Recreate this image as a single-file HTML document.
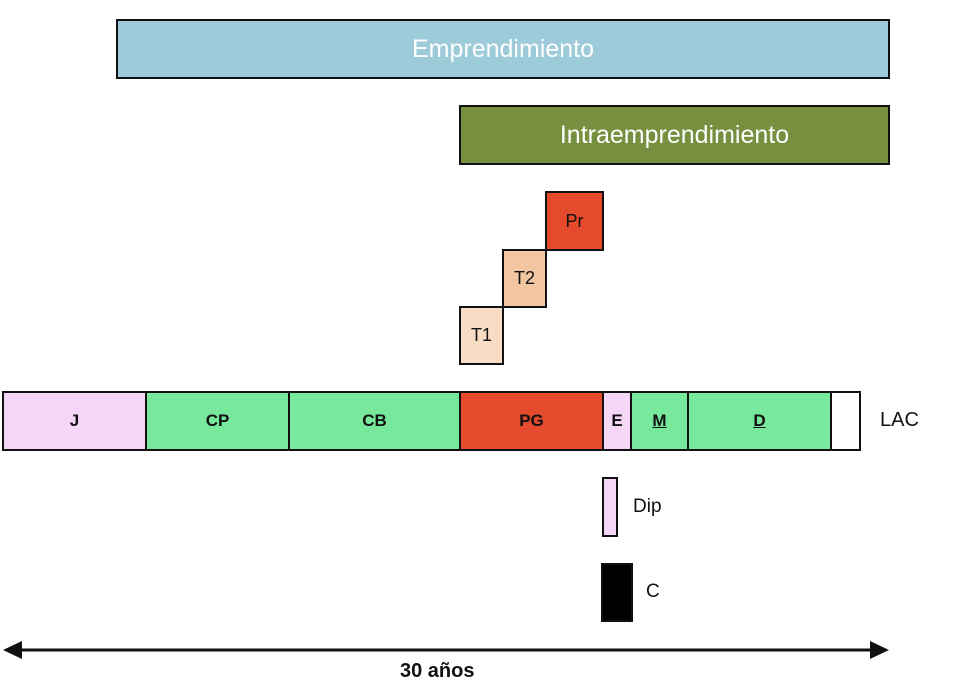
<!DOCTYPE html>
<html><head><meta charset="utf-8"><style>
body{margin:0;width:954px;height:698px;background:#fff;overflow:hidden;font-family:"Liberation Sans",sans-serif}
.b{position:absolute;box-sizing:border-box;border:2px solid #111;display:flex;align-items:center;justify-content:center;font-size:17px;color:#111}
.t{position:absolute;font-size:20px;color:#111}
</style></head><body>
<div class="b" style="left:116px;top:19px;width:774px;height:60px;background:#9ecbd9;color:#fff;font-size:25px">Emprendimiento</div>
<div class="b" style="left:459px;top:105px;width:431px;height:60px;background:#77903f;color:#fff;font-size:25px">Intraemprendimiento</div>
<div class="b" style="left:545px;top:191px;width:59px;height:60px;background:#e54a2c;font-size:18px">Pr</div>
<div class="b" style="left:502px;top:249px;width:45px;height:59px;background:#f2c6a0;font-size:18px">T2</div>
<div class="b" style="left:459px;top:306px;width:45px;height:59px;background:#f8dcc4;font-size:18px">T1</div>
<div style="position:absolute;left:0;top:0">
<div class="b" style="left:2px;top:391px;width:145px;height:60px;background:#f6d6f6;font-weight:bold">J</div>
<div class="b" style="left:145px;top:391px;width:145px;height:60px;background:#78e89c;font-weight:bold">CP</div>
<div class="b" style="left:288px;top:391px;width:173px;height:60px;background:#78e89c;font-weight:bold">CB</div>
<div class="b" style="left:459px;top:391px;width:145px;height:60px;background:#e54a2c;font-weight:bold">PG</div>
<div class="b" style="left:602px;top:391px;width:30px;height:60px;background:#f6d6f6;font-weight:bold">E</div>
<div class="b" style="left:630px;top:391px;width:59px;height:60px;background:#78e89c;font-weight:bold;text-decoration:underline">M</div>
<div class="b" style="left:687px;top:391px;width:145px;height:60px;background:#78e89c;font-weight:bold;text-decoration:underline">D</div>
<div class="b" style="left:830px;top:391px;width:31px;height:60px;background:#fff"></div>
</div>
<div class="t" style="left:880px;top:409px">LAC</div>
<div class="b" style="left:602px;top:477px;width:16px;height:60px;background:#f6d6f6"></div>
<div class="t" style="left:633px;top:496px;font-size:19px">Dip</div>
<div class="b" style="left:601px;top:563px;width:32px;height:59px;background:#000"></div>
<div class="t" style="left:646px;top:581px;font-size:19px">C</div>
<svg style="position:absolute;left:0;top:0" width="954" height="698">
<line x1="14" y1="650" x2="878" y2="650" stroke="#111" stroke-width="3"/>
<polygon points="3,650 22,641 22,659" fill="#111"/>
<polygon points="889,650 870,641 870,659" fill="#111"/>
</svg>
<div class="t" style="left:400px;top:660px;font-weight:bold;font-size:20px">30 años</div>
</body></html>
